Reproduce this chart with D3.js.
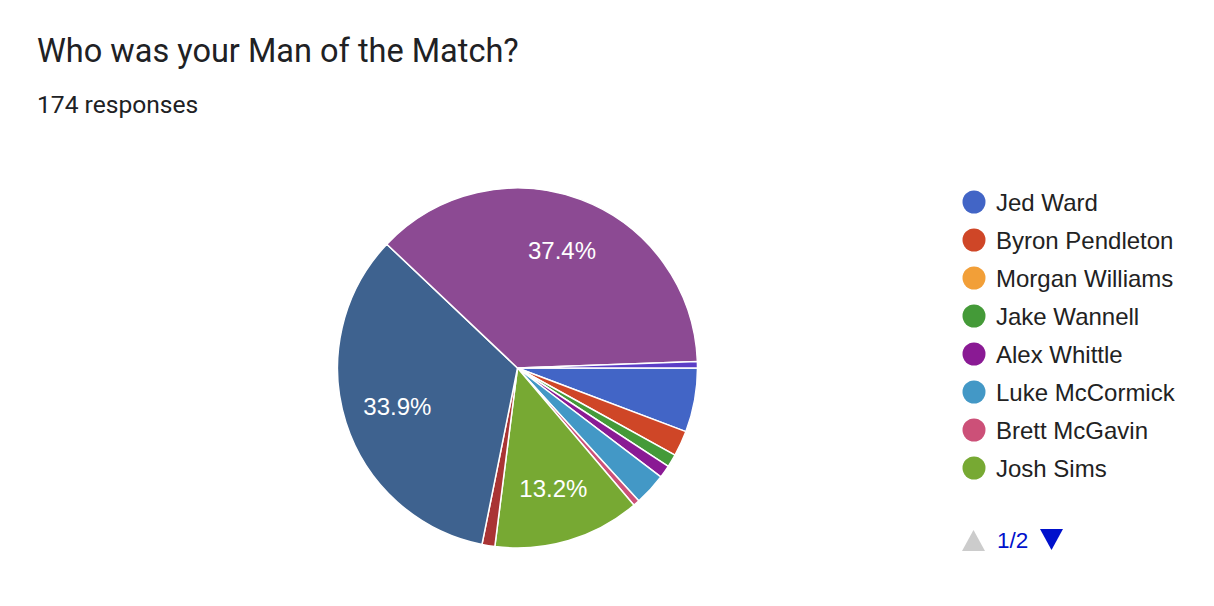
<!DOCTYPE html>
<html>
<head>
<meta charset="utf-8">
<script src="https://cdn.jsdelivr.net/npm/d3@7"></script>
<style>
  html, body { margin: 0; padding: 0; background: #fff; }
  svg { display: block; }
</style>
</head>
<body>
<svg id="chart" width="1214" height="606"></svg>
<script>
// ---- data ----
const titleText = "Who was your Man of the Match?";
const subtitleText = "174 responses";
// Legend page 1 (shown)
const page1Names = ["Jed Ward", "Byron Pendleton", "Morgan Williams", "Jake Wannell", "Alex Whittle", "Luke McCormick", "Brett McGavin", "Josh Sims"];
const page1Counts = [10, 4, 0, 2, 2, 5, 1, 23];
// Legend page 2 (hidden behind pagination; names not visible in the picture)
const page2Names = ["Option 9", "Option 10", "Option 11", "Option 12"];
const page2Counts = [2, 59, 65, 1];
const sliceColors = ["#4265c6", "#cf4627", "#f29f38", "#449a38", "#8a1a94", "#4398c6", "#cc5078", "#77a933",
                     "#a93434", "#3e628f", "#8c4a93", "#5b3ec6"];
const pageLabel = "1/2";

const names = page1Names.concat(page2Names);
const counts = page1Counts.concat(page2Counts);
const total = d3.sum(counts);
const data = names.map((n, i) => ({ name: n, value: counts[i], color: sliceColors[i] }));

const svg = d3.select("#chart");

// title
svg.append("text").attr("x", 37).attr("y", 62)
  .attr("font-family", "Roboto, 'Noto Sans', sans-serif").attr("font-size", 32.5)
  .attr("fill", "#202124").text(titleText);
svg.append("text").attr("x", 37).attr("y", 113)
  .attr("font-family", "Roboto, 'Noto Sans', sans-serif").attr("font-size", 24.6)
  .attr("fill", "#202124").text(subtitleText);

// pie
const cx = 517.5, cy = 368, R = 180;
const pie = d3.pie().value(d => d.value).sort(null)
  .startAngle(Math.PI / 2).endAngle(Math.PI / 2 + 2 * Math.PI);
const arcs = pie(data);
const arc = d3.arc().innerRadius(0).outerRadius(R);
const labelArc = d3.arc().innerRadius(R * 0.7).outerRadius(R * 0.7);

const g = svg.append("g").attr("transform", `translate(${cx},${cy})`);
g.selectAll("path.slice").data(arcs.filter(d => d.value > 0)).join("path")
  .attr("class", "slice")
  .attr("d", arc)
  .attr("fill", d => d.data.color)
  .attr("stroke", "#fff").attr("stroke-width", 1.5).attr("stroke-linejoin", "round");

const fmt = v => (v / total * 100).toFixed(1) + "%";
g.selectAll("text.pct").data(arcs.filter(d => d.value / total > 0.1)).join("text")
  .attr("class", "pct")
  .attr("transform", d => `translate(${labelArc.centroid(d)})`)
  .attr("text-anchor", "middle").attr("dy", "0.36em")
  .attr("font-family", "'Liberation Sans', Arial, sans-serif").attr("font-size", 24)
  .attr("fill", "#fff").text(d => fmt(d.value));

// legend
const legX = 974, legY0 = 202, legStep = 38;
const lg = svg.append("g");
const rows = lg.selectAll("g").data(data.slice(0, page1Names.length)).join("g")
  .attr("transform", (d, i) => `translate(${legX},${legY0 + i * legStep})`);
rows.append("circle").attr("r", 11.5).attr("fill", d => d.color);
rows.append("text").attr("x", 22).attr("dy", "0.36em")
  .attr("font-family", "'Liberation Sans', Arial, sans-serif").attr("font-size", 24)
  .attr("fill", "#222").text(d => d.name);

// pagination
const pgY = 540;
svg.append("path").attr("d", d3.line()([[962, pgY + 11], [985, pgY + 11], [973.5, pgY - 10]]) + "Z").attr("fill", "#cccccc");
svg.append("text").attr("x", 997).attr("y", pgY).attr("dy", "0.36em")
  .attr("font-family", "'Liberation Sans', Arial, sans-serif").attr("font-size", 22.5)
  .attr("fill", "#0011cc").text(pageLabel);
svg.append("path").attr("d", d3.line()([[1040, pgY - 11], [1063, pgY - 11], [1051.5, pgY + 10]]) + "Z").attr("fill", "#0011cc");
</script>
</body>
</html>
